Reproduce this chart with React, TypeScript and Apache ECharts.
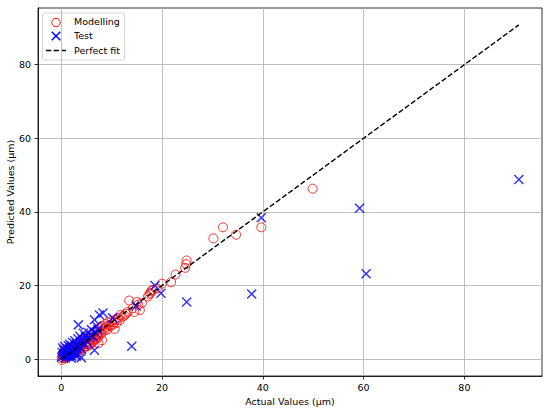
import React, { useEffect, useRef } from "react";
import * as echarts from "echarts";

const tickValues = [0, 20, 40, 60, 80];
const axisMin = -4.6;
const axisMax = 95.4;

const modellingPoints: number[][] = [
  [0.1, -0.2], [0.2, 0.5], [0.3, 1.2], [0.4, 0.3], [0.5, 2.0], [0.6, 0.8], [0.7, 1.5], [0.8, 0.2],
  [0.9, 2.6], [1.0, 1.0], [1.1, 1.8], [1.2, 0.6], [1.3, 2.2], [1.4, 1.4], [1.5, 3.0], [1.6, 0.9],
  [1.7, 2.5], [1.8, 1.7], [1.9, 3.2], [2.0, 2.0], [2.1, 1.2], [2.2, 2.8], [2.3, 3.5], [2.4, 1.8],
  [2.5, 2.4], [2.6, 3.0], [2.7, 1.5], [2.8, 3.8], [2.9, 2.6], [3.0, 3.2], [3.1, 2.0], [3.2, 4.0],
  [3.3, 2.9], [3.4, 3.6], [3.5, 1.9], [3.6, 4.3], [3.7, 3.1], [3.8, 2.5], [3.9, 4.6], [4.0, 3.6],
  [4.2, 4.2], [4.4, 3.0], [4.5, 5.0], [4.7, 4.0], [4.8, 5.5], [5.0, 4.5], [5.1, 3.5], [5.3, 5.8],
  [5.5, 4.8], [5.6, 6.2], [5.8, 3.9], [6.0, 5.5], [6.1, 6.6], [6.3, 4.6], [6.5, 7.0], [6.6, 5.2],
  [6.8, 7.5], [7.0, 6.2], [7.2, 8.0], [7.3, 5.8], [7.5, 7.0], [7.7, 8.6], [8.1, 5.1], [8.0, 7.2],
  [8.2, 9.0], [8.5, 8.2], [8.8, 9.5], [9.0, 8.8], [9.3, 10.0], [9.5, 9.2], [10.0, 10.3], [10.3, 9.4],
  [10.6, 8.2], [10.8, 10.8], [11.3, 11.2], [11.8, 12.0], [12.2, 11.5], [12.8, 12.3], [13.2, 12.8],
  [13.5, 15.9], [14.2, 13.8], [14.5, 12.8], [15.0, 15.5], [15.3, 14.8], [15.6, 13.3], [16.0, 15.2],
  [17.2, 17.0], [17.5, 17.6], [17.9, 18.5], [17.7, 18.0], [18.2, 18.8], [19.0, 19.2], [20.0, 20.5],
  [21.8, 20.9], [22.7, 23.0], [24.6, 24.8], [24.8, 25.8], [24.9, 26.8], [30.2, 32.8], [32.1, 35.8],
  [34.7, 33.8], [39.7, 35.8], [49.9, 46.3],
  [5.2, 4.0], [6.2, 5.0], [7.1, 6.5], [7.9, 6.8], [8.7, 7.8], [9.2, 8.0], [9.8, 9.0], [10.5, 10.0],
  [11.0, 9.8], [11.6, 10.6], [12.5, 11.8], [6.9, 5.5], [7.4, 4.3], [4.9, 3.4], [5.7, 4.2],
];

const testPoints: number[][] = [
  [0.1, 0.5], [0.2, 1.8], [0.3, 3.0], [0.4, 0.9], [0.5, 2.4], [0.6, 1.3], [0.7, 3.5], [0.8, 0.3],
  [0.9, 2.0], [1.0, 1.1], [1.1, 2.8], [1.2, 0.7], [1.3, 1.8], [1.4, 3.6], [1.5, 2.3], [1.6, 1.0],
  [1.7, 4.0], [1.8, 2.6], [1.9, 1.5], [2.0, 3.3], [2.1, 0.8], [2.2, 2.2], [2.3, 4.5], [2.4, 1.6],
  [2.5, 3.0], [2.6, 2.0], [2.7, 5.0], [2.8, 3.6], [2.9, 1.2], [3.0, 4.2], [3.2, 2.7], [3.3, 5.5],
  [3.5, 3.4], [3.7, 6.2], [3.8, 4.5], [4.0, 2.8], [4.2, 5.2], [4.4, 7.0], [4.6, 4.0], [4.8, 6.0],
  [5.0, 5.0], [5.3, 7.3], [5.5, 5.8], [5.8, 6.5], [6.0, 8.0], [6.3, 6.2], [6.8, 7.2], [7.0, 9.0],
  [7.3, 8.0], [3.0, 0.8], [2.0, 0.2], [3.4, 9.3], [14.0, 3.5], [6.6, 2.4], [4.0, 0.4], [7.6, 12.0],
  [6.6, 10.7], [8.3, 12.5], [10.2, 11.2], [14.9, 14.4], [18.6, 20.0], [19.8, 17.9], [24.9, 15.5],
  [37.8, 17.7], [39.7, 38.4], [59.2, 41.0], [60.5, 23.2], [90.8, 48.8],
];

const perfectFit: number[][] = [
  [0, 0],
  [90.8, 90.8],
];

const legendLabels = ["Modelling", "Test", "Perfect fit"];
const xAxisName = "Actual Values (μm)";
const yAxisName = "Predicted Values (μm)";

const FONT = "DejaVu Sans";

export default function App() {
  const ref = useRef<HTMLDivElement>(null);
  useEffect(() => {
    if (!ref.current) return;
    const chart = echarts.init(ref.current, undefined, { renderer: "svg" });
    const axisCommon = (name: string, isY: boolean) => ({
      type: "value",
      min: axisMin,
      max: axisMax,
      name,
      nameLocation: "middle",
      nameGap: 17,
      nameTextStyle: { color: "#000", fontSize: 9.5, fontFamily: FONT },
      axisLine: { show: true, onZero: false, lineStyle: { color: "#000", width: 0.8 } },
      axisTick: {
        show: true,
        inside: false,
        length: 3.5,
        customValues: tickValues,
        lineStyle: { color: "#000", width: 0.8 },
      },
      axisLabel: {
        customValues: tickValues,
        color: "#000",
        fontSize: 9.5,
        fontFamily: FONT,
        margin: isY ? 7 : 6,
      },
      splitLine: { show: true, lineStyle: { color: "#b0b0b0", width: 0.8 } },
    });
    chart.setOption({
      animation: false,
      grid: {
        left: 38,
        right: 8,
        top: 8,
        bottom: 36,
        outerBoundsMode: "none",
        containLabel: false,
        show: true,
        borderColor: "#000",
        borderWidth: 0.8,
        backgroundColor: "transparent",
      },
      xAxis: axisCommon(xAxisName, false),
      yAxis: axisCommon("", true),
      series: [
        {
          name: legendLabels[0],
          type: "scatter",
          data: modellingPoints,
          symbol: "circle",
          symbolSize: 9,
          itemStyle: { color: "none", borderColor: "#ff0000", borderWidth: 1 },
          emphasis: { disabled: true },
        },
        {
          name: legendLabels[1],
          type: "scatter",
          data: testPoints,
          symbol: "path://M0 0L10 10M10 0L0 10",
          symbolSize: 9,
          itemStyle: { color: "none", borderColor: "#0000ff", borderWidth: 1.5 },
          emphasis: { disabled: true },
        },
        {
          name: legendLabels[2],
          type: "line",
          data: perfectFit,
          symbol: "none",
          lineStyle: { color: "#000", width: 1.4, type: [5.3, 2.3] },
          emphasis: { disabled: true },
        },
      ],
      graphic: [
        {
          type: "text",
          x: 10.5,
          y: 192,
          rotation: Math.PI / 2,
          style: {
            text: yAxisName,
            x: 0,
            y: 0,
            align: "center",
            verticalAlign: "middle",
            fontSize: 9.5,
            fontFamily: FONT,
            fill: "#000",
          },
        },
        {
          type: "group",
          z: 100,
          children: [
            {
              type: "rect",
              shape: { x: 42.5, y: 13, width: 82, height: 47, r: 2 },
              style: { fill: "rgba(255,255,255,0.8)", stroke: "#cccccc", lineWidth: 0.8 },
            },
            {
              type: "circle",
              shape: { cx: 56, cy: 22.5, r: 4.2 },
              style: { fill: "none", stroke: "#ff0000", lineWidth: 1 },
            },
            {
              type: "line",
              shape: { x1: 51.7, y1: 31.7, x2: 60.3, y2: 40.3 },
              style: { stroke: "#0000ff", lineWidth: 1.5 },
            },
            {
              type: "line",
              shape: { x1: 60.3, y1: 31.7, x2: 51.7, y2: 40.3 },
              style: { stroke: "#0000ff", lineWidth: 1.5 },
            },
            {
              type: "line",
              shape: { x1: 46, y1: 50.5, x2: 66, y2: 50.5 },
              style: { stroke: "#000", lineWidth: 1.4, lineDash: [5.3, 2.3] },
            },
            ...legendLabels.map((t, i) => ({
              type: "text",
              style: {
                text: t,
                x: 74,
                y: [21.5, 35.5, 50.5][i],
                verticalAlign: "middle",
                align: "left",
                fontSize: 9.5,
                fontFamily: FONT,
                fill: "#000",
              },
            })),
          ],
        },
      ],
    });
    return () => chart.dispose();
  }, []);
  return (
    <div
      ref={ref}
      style={{ position: "fixed", left: 0, top: 0, width: 550, height: 412, background: "#fff" }}
    />
  );
}
